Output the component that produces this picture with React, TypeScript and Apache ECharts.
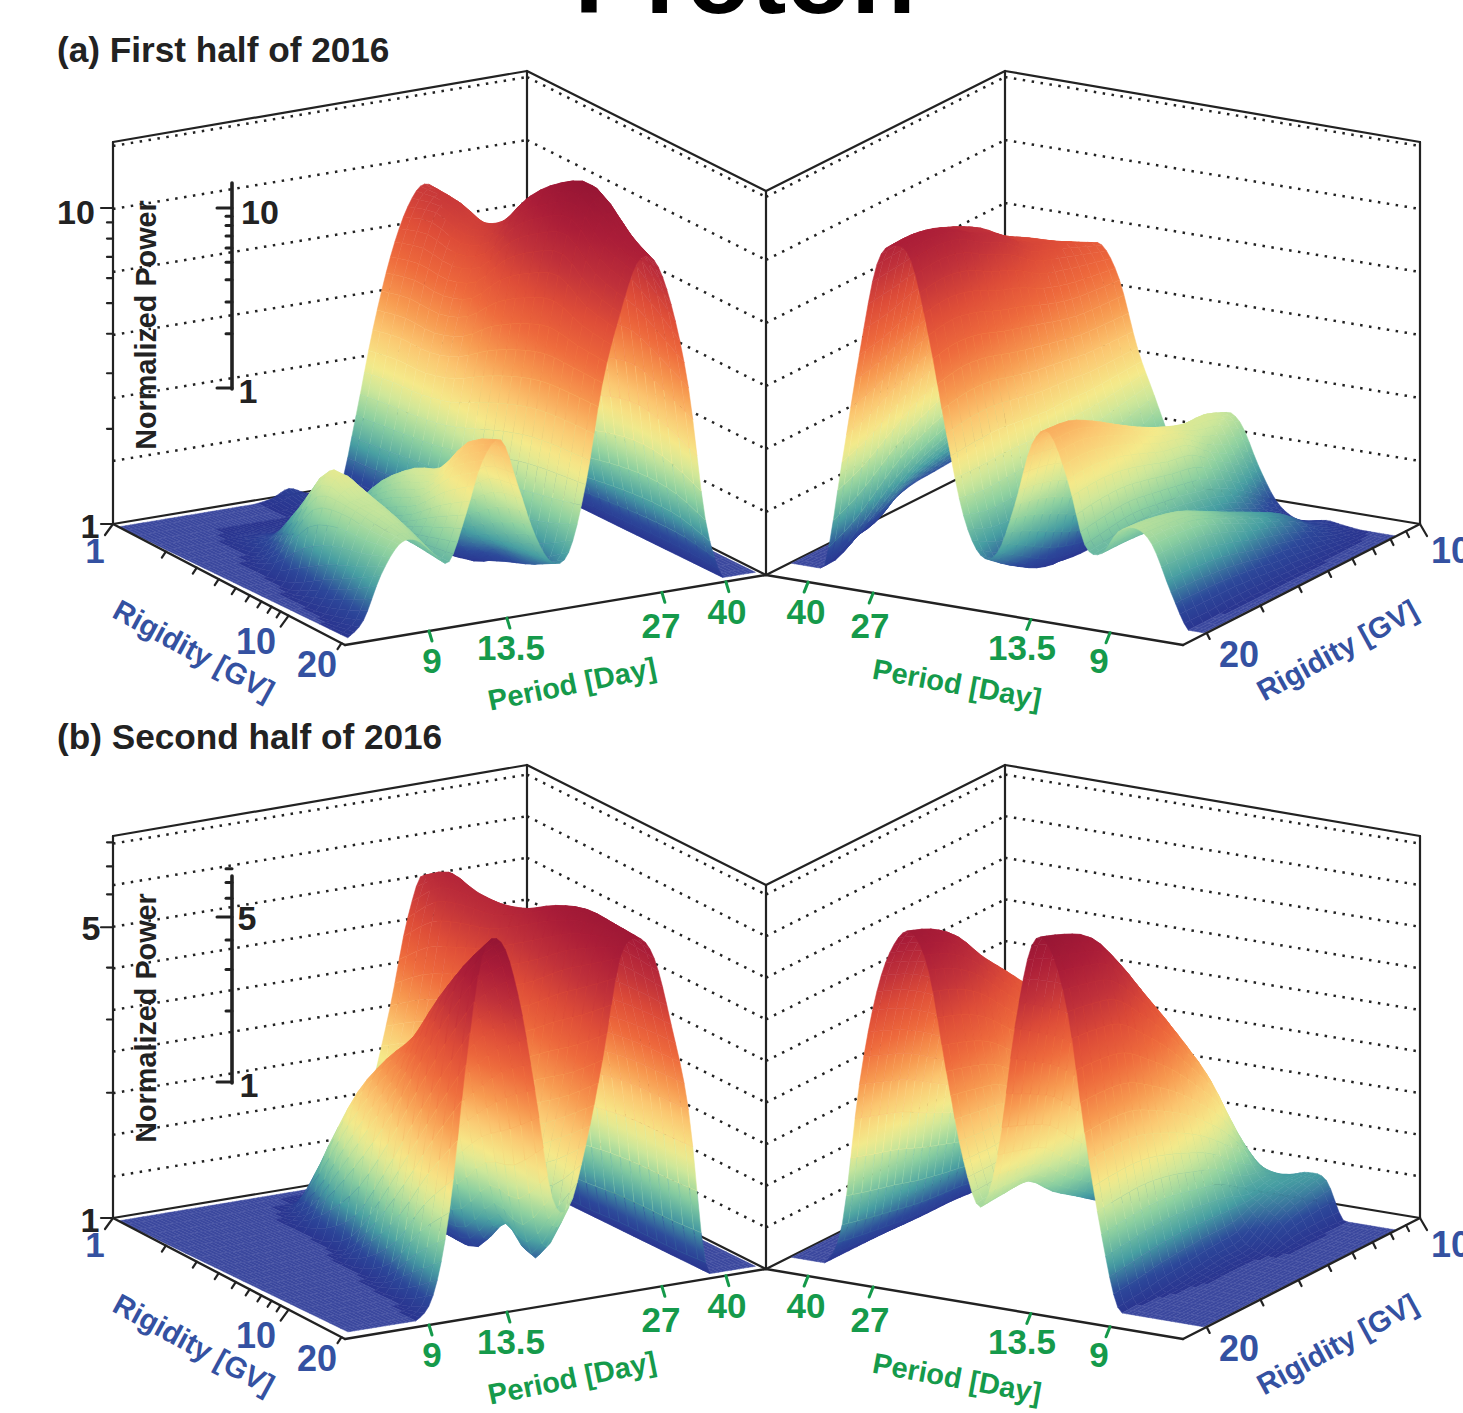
import React, { useEffect, useRef } from "react";
import * as echarts from "echarts";

const W = 1463;
const H = 1413;

// Period of each matrix column (days) and rigidity of each matrix row (GV).
const periodDays = [5.9, 6.4, 7.0, 7.7, 8.4, 9.2, 10.0, 10.9, 11.9, 13.1, 14.2, 15.3, 16.5, 17.8, 19.2, 20.7, 22.4, 24.2, 26.1, 28.6, 31.8, 35.3, 39.3, 43.5, 48];
const rigidityLow = [1, 1.45, 2.11, 3.07, 4.47, 6.49, 9.44, 13.7, 20];
const rigidityHigh = [20, 23.8, 28.3, 33.6, 40, 47.6, 56.6, 67.3, 80];

// Log power, in axis units (382 = full height of the box).
// Rows follow rigidityLow; columns follow periodDays from short to long.
const firstHalfLow = [
  [0,0,0,0,0,0,0,0,0,3,10,3,0,0,72,155,225,272,292,270,180,60,0,0,0],
  [0,0,0,0,0,0,0,0,0,2,4,2,0,0,75,160,232,280,290,268,185,62,2,0,0],
  [0,0,0,0,4,6,5,5,8,10,8,2,0,5,78,160,230,272,282,258,178,60,2,0,0],
  [0,0,0,3,21,25,18,18,30,40,25,5,0,8,82,170,242,288,298,270,182,60,0,0,0],
  [0,0,0,30,66,60,45,40,62,78,50,12,0,8,90,190,278,330,335,300,200,66,0,0,0],
  [0,0,8,78,114,100,65,55,85,103,75,25,5,10,100,205,300,355,362,325,218,72,0,0,0],
  [0,0,25,88,100,96,62,70,100,118,90,45,28,18,108,215,312,368,372,332,225,75,0,0,0],
  [0,5,40,85,98,85,60,88,135,158,118,60,35,30,112,215,290,340,345,310,212,72,0,0,0],
  [0,15,57,85,87,71,60,104,156,173,124,73,43,50,115,214,281,329,328,281,195,60,0,0,0],
];
const secondHalfLow = [
  [0,0,0,0,0,0,0,0,0,0,0,0,0,0,30,95,170,255,295,225,140,8,0,0,0],
  [0,0,0,0,0,0,0,0,0,8,8,3,0,0,40,110,190,285,310,235,150,8,0,0,0],
  [0,0,0,0,0,0,0,0,20,78,60,30,8,5,50,120,205,295,300,225,145,8,0,0,0],
  [0,0,0,0,0,0,0,2,70,145,115,65,20,8,60,135,225,300,300,225,148,8,0,0,0],
  [0,0,0,0,0,0,0,20,125,192,160,95,25,8,70,150,245,315,305,232,152,8,0,0,0],
  [0,0,0,0,0,0,5,70,180,230,195,125,30,12,85,165,265,333,320,245,160,10,0,0,0],
  [0,0,0,0,0,0,25,130,245,285,240,160,68,48,100,185,290,345,330,252,165,10,0,0,0],
  [0,0,0,0,0,5,70,190,305,330,280,190,60,28,120,205,310,347,328,255,166,10,0,0,0],
  [0,0,0,0,0,23,103,248,355,365,309,212,103,89,148,231,330,347,324,255,167,12,0,0,0],
];
// Rows follow rigidityHigh; columns follow periodDays from long to short.
const firstHalfHigh = [
  [0,0,3,110,220,313,335,323,251,156,77,40,46,96,159,174,130,68,62,86,93,79,35,0,0],
  [0,0,15,120,225,315,335,325,255,160,70,22,30,90,155,172,132,72,62,84,90,78,34,0,0],
  [0,5,35,135,235,315,327,320,250,160,70,10,15,80,145,160,128,75,60,78,85,74,32,2,0],
  [0,12,55,150,240,310,312,305,240,155,72,5,8,65,130,145,120,72,55,68,73,64,28,2,0],
  [10,30,70,160,245,298,300,292,232,150,75,3,5,55,118,130,110,68,48,56,60,52,22,2,0],
  [18,40,80,165,240,280,280,272,222,148,80,3,5,50,108,118,104,62,40,44,48,42,18,1,0],
  [20,45,85,165,230,265,268,262,215,145,85,10,5,48,100,108,85,52,30,30,35,30,12,0,0],
  [22,48,85,160,220,250,254,252,212,145,92,25,8,50,100,103,70,35,18,14,15,12,5,0,0],
  [25,50,85,155,210,238,240,242,210,145,100,55,15,45,92,88,47,16,2,0,4,2,0,0,0],
];
const secondHalfHigh = [
  [0,0,0,41,184,280,330,345,310,212,126,82,137,267,352,354,292,174,75,5,0,0,0,0,0],
  [0,0,0,35,175,270,320,335,300,205,125,84,130,250,342,345,288,175,78,8,0,0,0,0,0],
  [0,0,0,30,165,255,305,316,282,195,125,84,120,232,325,333,280,172,80,12,0,0,0,0,0],
  [0,0,0,25,150,235,275,285,255,175,110,62,95,205,292,300,255,160,78,15,2,0,0,0,0],
  [0,0,0,22,135,210,250,258,228,155,95,45,75,170,250,258,225,145,72,18,3,0,0,0,0],
  [0,0,0,20,120,190,222,230,205,135,75,28,55,135,205,215,190,125,65,20,4,0,0,0,0],
  [0,0,0,15,105,165,195,200,178,115,55,15,35,95,155,165,150,100,50,35,22,3,0,0,0],
  [0,0,0,12,90,140,165,170,150,95,40,8,20,55,100,105,90,65,50,42,32,3,0,0,0],
  [0,0,0,10,72,115,135,140,122,75,28,5,10,30,55,60,38,30,38,43,38,1,0,0,0],
];

// Tick values and labels.
const periodTicks = [9, 13.5, 27, 40];
const periodTickFractions = [0.2, 0.39, 0.768, 0.924];
const rigidityTicksLow = [1, 2, 3, 4, 5, 6, 7, 8, 9, 10, 20];
const rigidityTicksHigh = [20, 30, 40, 50, 60, 70, 80, 90, 100];
const powerTicksFirst = [1, 2, 3, 4, 5, 6, 7, 8, 9, 10];
const powerTicksSecond = [1, 2, 3, 4, 5, 6, 7, 8];

type Pt = [number, number];
const DY = 694;

const colorStops: [number, number[]][] = [
  [0, [42, 53, 144]],
  [0.05, [44, 72, 154]],
  [0.12, [70, 158, 162]],
  [0.2, [140, 208, 160]],
  [0.27, [205, 231, 154]],
  [0.33, [245, 234, 138]],
  [0.42, [251, 198, 112]],
  [0.5, [247, 154, 80]],
  [0.6, [238, 106, 60]],
  [0.7, [222, 77, 56]],
  [0.8, [192, 49, 58]],
  [0.9, [170, 29, 56]],
  [1, [150, 21, 52]],
];
function colorAt(t: number): string {
  const v = Math.max(0, Math.min(1, t));
  for (let i = 1; i < colorStops.length; i++) {
    if (v <= colorStops[i][0]) {
      const [a, ca] = colorStops[i - 1];
      const [b, cb] = colorStops[i];
      const f = (v - a) / (b - a);
      return `rgb(${ca.map((c, k) => Math.round(c + (cb[k] - c) * f)).join(",")})`;
    }
  }
  return "rgb(150,21,52)";
}

function periodFraction(p: number): number {
  const lp = Math.log10(p);
  const anchors = periodTicks.map(Math.log10);
  let i = 0;
  if (lp > anchors[2]) i = 2;
  else if (lp > anchors[1]) i = 1;
  const f = (lp - anchors[i]) / (anchors[i + 1] - anchors[i]);
  return periodTickFractions[i] + f * (periodTickFractions[i + 1] - periodTickFractions[i]);
}
const rigidityFractionLow = (r: number) => Math.log10(r) / Math.log10(20);
const rigidityFractionHigh = (r: number) => Math.log10(r / 20) / Math.log10(4);

function spline(a: number, b: number, c: number, d: number, f: number) {
  return 0.5 * (2 * b + (c - a) * f + (2 * a - 5 * b + 4 * c - d) * f * f + (3 * b - a - 3 * c + d) * f * f * f);
}
function refine(list: number[], n: number): number[] {
  const out: number[] = [];
  for (let i = 0; i < list.length - 1; i++) {
    const a = list[Math.max(0, i - 1)];
    const b = list[i];
    const c = list[i + 1];
    const d = list[Math.min(list.length - 1, i + 2)];
    for (let k = 0; k < n; k++) out.push(spline(a, b, c, d, k / n));
  }
  out.push(list[list.length - 1]);
  return out;
}
function bilinear(a: Pt, b: Pt, c: Pt, d: Pt, u: number, v: number): Pt {
  return [
    (1 - u) * (1 - v) * a[0] + u * (1 - v) * b[0] + (1 - u) * v * c[0] + u * v * d[0],
    (1 - u) * (1 - v) * a[1] + u * (1 - v) * b[1] + (1 - u) * v * c[1] + u * v * d[1],
  ];
}

interface Quad { pts: Pt[]; fill: any; stroke: string }

function buildSurface(mat: number[][], high: boolean, dy: number, zFull: number): Quad[] {
  const SU = 4;
  const SV = 3;
  const rows = mat.map((r) => refine(r, SU));
  const ncols = rows[0].length;
  const columns: number[][] = [];
  for (let c = 0; c < ncols; c++) columns.push(refine(rows.map((r) => r[c]), SV));
  const nrows = columns[0].length;
  const colFrac = refine(
    (high ? [...periodDays].reverse().map((p) => 1 - periodFraction(p)) : periodDays.map(periodFraction)),
    SU
  );
  const rowFrac = refine((high ? rigidityHigh.map(rigidityFractionHigh) : rigidityLow.map(rigidityFractionLow)), SV);
  const grid: { x: number; y: number; t: number }[][] = [];
  for (let r = 0; r < nrows; r++) {
    const line: { x: number; y: number; t: number }[] = [];
    for (let c = 0; c < ncols; c++) {
      const z = Math.max(0, columns[c][r]);
      const p = high
        ? bilinear([790, 563 + dy], [1205, 633 + dy], [981, 467 + dy], [1396, 536 + dy], colFrac[c], rowFrac[r])
        : bilinear([118, 527 + dy], [527, 459 + dy], [347, 638 + dy], [757, 572 + dy], colFrac[c], rowFrac[r]);
      line.push({ x: p[0], y: p[1] - z, t: z < 0.6 ? 0 : z / zFull });
    }
    grid.push(line);
  }
  const quads: Quad[] = [];
  const rowOrder: number[] = [];
  for (let r = 0; r < nrows - 1; r++) rowOrder.push(high ? nrows - 2 - r : r);
  const colOrder: number[] = [];
  for (let c = 0; c < ncols - 1; c++) colOrder.push(high ? c : ncols - 2 - c);
  for (const r of rowOrder) {
    for (const c of colOrder) {
      const a = grid[r][c];
      const b = grid[r][c + 1];
      const d = grid[r + 1][c + 1];
      const e = grid[r + 1][c];
      const ts = [a.t, b.t, d.t, e.t];
      const tmin = Math.min(...ts);
      const tmax = Math.max(...ts);
      const tc = (a.t + b.t + d.t + e.t) / 4;
      const pts: Pt[] = [[a.x, a.y], [b.x, b.y], [d.x, d.y], [e.x, e.y]];
      if (tmax <= 0) {
        quads.push({ pts, fill: "#3b489e", stroke: "#4753a5" });
        continue;
      }
      const mean = colorAt(tc);
      let fill: any = mean;
      if (tmax - tmin > 0.004) {
        const d1x = d.x - a.x, d1y = d.y - a.y, d2x = e.x - b.x, d2y = e.y - b.y;
        const det = d1x * d2y - d1y * d2x;
        if (Math.abs(det) > 1) {
          const r1 = d.t - a.t;
          const r2 = e.t - b.t;
          const gx = (r1 * d2y - r2 * d1y) / det;
          const gy = (d1x * r2 - d2x * r1) / det;
          const g2 = gx * gx + gy * gy;
          if (g2 > 1e-10) {
            const cx = (a.x + b.x + d.x + e.x) / 4;
            const cy = (a.y + b.y + d.y + e.y) / 4;
            const s0 = (tmin - tc) / g2;
            const s1 = (tmax - tc) / g2;
            fill = new echarts.graphic.LinearGradient(
              cx + gx * s0, cy + gy * s0, cx + gx * s1, cy + gy * s1,
              [0, 0.33, 0.67, 1].map((o) => ({ offset: o, color: colorAt(tmin + (tmax - tmin) * o) })),
              true
            );
          }
        }
      }
      quads.push({ pts, fill, stroke: mean });
    }
  }
  return quads;
}

interface Seg { a: Pt; b: Pt; width: number; color: string; dash?: number[] }
const INK = "#222222";
const BLUE = "#3451a1";
const GREEN = "#159a4b";

function backSegs(dy: number, levels: number, step: number): Seg[] {
  const s: Seg[] = [];
  const L = (x: number, y: number): Pt => [x, y + dy];
  const wall: Pt[] = [[113, 524], [527, 455], [766, 575], [1005, 455], [1420, 524]];
  for (let k = 1; k <= levels; k++) {
    for (let i = 0; i < 4; i++) {
      s.push({ a: L(wall[i][0], wall[i][1] - k * step), b: L(wall[i + 1][0], wall[i + 1][1] - k * step), width: 2.5, color: "#222222", dash: [2.5, 6.5] });
    }
  }
  const top: Pt[] = [[113, 142], [527, 71], [766, 191], [1005, 71], [1420, 142]];
  for (let i = 0; i < 5; i++) s.push({ a: L(top[i][0], top[i][1]), b: L(wall[i][0], wall[i][1]), width: 2.2, color: INK });
  for (let i = 0; i < 4; i++) {
    s.push({ a: L(top[i][0], top[i][1]), b: L(top[i + 1][0], top[i + 1][1]), width: 2.2, color: INK });
    s.push({ a: L(wall[i][0], wall[i][1]), b: L(wall[i + 1][0], wall[i + 1][1]), width: 2.2, color: INK });
  }
  return s;
}

function frontSegs(dy: number, powerTicks: number[], decade: number, insetDecade: number, insetBase: number, insetTop: number, majors: number[]): Seg[] {
  const s: Seg[] = [];
  const L = (x: number, y: number): Pt => [x, y + dy];
  const lf = (f: number): Pt => [113 + 232 * f, 524 + dy + 121 * f];
  const fr = (f: number): Pt => [345 + 421 * f, 645 + dy - 70 * f];
  const rf = (f: number): Pt => [766 + 417 * f, 575 + dy + 70 * f];
  const far = (f: number): Pt => [1183 + 237 * f, 645 + dy - 121 * f];
  s.push({ a: L(113, 524), b: L(345, 645), width: 2.4, color: INK });
  s.push({ a: L(345, 645), b: L(766, 575), width: 2.4, color: INK });
  s.push({ a: L(766, 575), b: L(1183, 645), width: 2.4, color: INK });
  s.push({ a: L(1183, 645), b: L(1420, 524), width: 2.4, color: INK });
  for (const r of rigidityTicksLow) {
    const p = lf(rigidityFractionLow(r) * 0.985);
    const long = r === 1 || r === 10;
    s.push({ a: p, b: [p[0] - (long ? 8 : 4), p[1] + (long ? 11 : 6)], width: 2.2, color: INK });
  }
  for (const r of rigidityTicksHigh) {
    const p = far(0.1 + 0.9 * rigidityFractionHigh(r) / rigidityFractionHigh(100));
    const long = r === 100;
    s.push({ a: p, b: [p[0] + (long ? 7 : 3), p[1] + (long ? 12 : 6)], width: 2.2, color: INK });
  }
  for (const p of periodTicks) {
    const u = periodFraction(p);
    const a = fr((347 + 410 * u - 345) / 421);
    s.push({ a, b: [a[0] + 3, a[1] + 10], width: 3, color: GREEN });
    const b = rf(1 - u + 0.025);
    s.push({ a: b, b: [b[0] - 4, b[1] + 10], width: 3, color: GREEN });
  }
  for (const v of powerTicks) {
    const y = 524 - Math.log10(v) * decade;
    const long = majors.includes(v);
    s.push({ a: L(long ? 101 : 107, y), b: L(113, y), width: 2.2, color: INK });
    const iy = insetBase - Math.log10(v) * insetDecade;
    s.push({ a: L(long ? 217 : 226, iy), b: L(232, iy), width: 3, color: INK });
  }
  s.push({ a: L(232, insetBase + 1), b: L(232, insetTop), width: 3.6, color: INK });
  return s;
}

interface Lab { text: string; x: number; y: number; size: number; color: string; rot?: number; align?: string }

function panelLabels(dy: number): Lab[] {
  const out: Lab[] = [];
  const num = (text: string, x: number, y: number, color: string, size = 35) => out.push({ text, x, y: y + dy, size, color });
  num("1", 95, 550, BLUE, 35);
  num("10", 256, 641, BLUE, 36);
  num("20", 317, 664, BLUE, 36);
  num("20", 1239, 654, BLUE, 36);
  out.push({ text: "10", x: 1431, y: 550 + dy, size: 36, color: BLUE, align: "left" }); // cropped by the page edge
  const tickText = periodTicks.map(String);
  const leftX = [432, 511, 661, 727];
  const leftY = [660, 647, 625, 611];
  const rightX = [1099, 1022, 870, 806];
  tickText.forEach((t, i) => {
    num(t, leftX[i], leftY[i], GREEN);
    num(t, rightX[i], leftY[i], GREEN);
  });
  out.push({ text: "Rigidity [GV]", x: 194, y: 650 + dy, size: 29.4, color: BLUE, rot: -0.5 });
  out.push({ text: "Rigidity [GV]", x: 1337, y: 650 + dy, size: 29.4, color: BLUE, rot: 0.5 });
  out.push({ text: "Period [Day]", x: 572, y: 684 + dy, size: 29, color: GREEN, rot: 0.2 });
  out.push({ text: "Period [Day]", x: 957, y: 684 + dy, size: 29, color: GREEN, rot: -0.18 });
  out.push({ text: "Normalized Power", x: 146, y: dy === 0 ? 325 : 1018, size: 28.8, color: INK, rot: Math.PI / 2 });
  return out;
}

const labels: Lab[] = [
  { text: "(a) First half of 2016", x: 57, y: 49, size: 35.2, color: INK, align: "left" },
  { text: "(b) Second half of 2016", x: 57, y: 736, size: 35.2, color: INK, align: "left" },
  { text: "10", x: 76, y: 212, size: 34, color: INK },
  { text: "1", x: 90, y: 526, size: 34, color: INK },
  { text: "10", x: 260, y: 212, size: 34, color: INK },
  { text: "1", x: 248, y: 391, size: 34, color: INK },
  { text: "5", x: 91, y: 928, size: 34, color: INK },
  { text: "1", x: 90, y: 1220, size: 34, color: INK },
  { text: "5", x: 247, y: 918, size: 34, color: INK },
  { text: "1", x: 249, y: 1085, size: 34, color: INK },
  ...panelLabels(0),
  ...panelLabels(DY),
];

function surfaceSeries(quads: Quad[], name: string) {
  return {
    type: "custom",
    name,
    coordinateSystem: "cartesian2d",
    silent: true,
    clip: false,
    z: 5,
    progressive: 0,
    encode: { x: 0, y: 1 },
    data: quads.map((_, i) => [i, i]),
    renderItem: (params: any, api: any) => {
      const q = quads[params.dataIndex];
      return {
        type: "polygon",
        shape: { points: q.pts.map((p) => api.coord(p)) },
        style: { fill: q.fill, stroke: q.stroke, lineWidth: 0.5 },
      };
    },
  };
}
function segSeries(segs: Seg[], name: string, z: number) {
  return {
    type: "custom",
    name,
    coordinateSystem: "cartesian2d",
    silent: true,
    clip: false,
    z,
    progressive: 0,
    encode: { x: 0, y: 1 },
    data: segs.map((_, i) => [i, i]),
    renderItem: (params: any, api: any) => {
      const s = segs[params.dataIndex];
      const a = api.coord(s.a);
      const b = api.coord(s.b);
      return {
        type: "line",
        shape: { x1: a[0], y1: a[1], x2: b[0], y2: b[1] },
        style: { stroke: s.color, lineWidth: s.width, lineDash: s.dash, lineCap: s.dash ? "butt" : "round" },
      };
    },
  };
}

export default function App() {
  const ref = useRef<HTMLDivElement>(null);
  useEffect(() => {
    document.body.style.margin = "0";
    document.body.style.overflow = "hidden";
    const chart = echarts.init(ref.current!, undefined, { renderer: "svg" });
    const fontFamily = '"Liberation Sans", Arial, sans-serif';
    const zA = 377;
    const zB = 365;
    chart.setOption({
      animation: false,
      backgroundColor: "#ffffff",
      grid: { left: 0, right: 0, top: 0, bottom: 0 },
      xAxis: { type: "value", min: 0, max: W, show: false },
      yAxis: { type: "value", min: 0, max: H, inverse: true, show: false },
      tooltip: { show: false },
      series: [
        segSeries(backSegs(0, 6, 63), "frame a", 1),
        segSeries(backSegs(DY, 9, 41.6), "frame b", 1),
        surfaceSeries(buildSurface(firstHalfLow, false, 0, zA), "first half, 1-20 GV"),
        surfaceSeries(buildSurface(firstHalfHigh, true, 0, zA), "first half, 20-100 GV"),
        surfaceSeries(buildSurface(secondHalfLow, false, DY, zB), "second half, 1-20 GV"),
        surfaceSeries(buildSurface(secondHalfHigh, true, DY, zB), "second half, 20-100 GV"),
        segSeries(frontSegs(0, powerTicksFirst, 316, 180, 388, 183, [1, 10]), "axes a", 9),
        segSeries(frontSegs(DY, powerTicksSecond, 416, 236, 388, 182, [1, 5]), "axes b", 9),
      ],
      graphic: {
        elements: [
          {
            type: "text",
            x: 745,
            y: 29,
            z: 100,
            silent: true,
            style: {
              text: "Proton",
              font: `bold 106px ${fontFamily}`,
              fill: "#000000",
              align: "center",
              verticalAlign: "bottom",
            },
          },
          ...labels.map((l) => ({
            type: "text",
            x: l.x,
            y: l.y,
            z: 100,
            silent: true,
            rotation: l.rot ?? 0,
            style: {
              text: l.text,
              font: `bold ${l.size}px ${fontFamily}`,
              fill: l.color,
              align: l.align ?? "center",
              verticalAlign: "middle",
            },
          })),
        ],
      },
    });
    return () => chart.dispose();
  }, []);
  return <div ref={ref} style={{ width: W, height: H }} />;
}
